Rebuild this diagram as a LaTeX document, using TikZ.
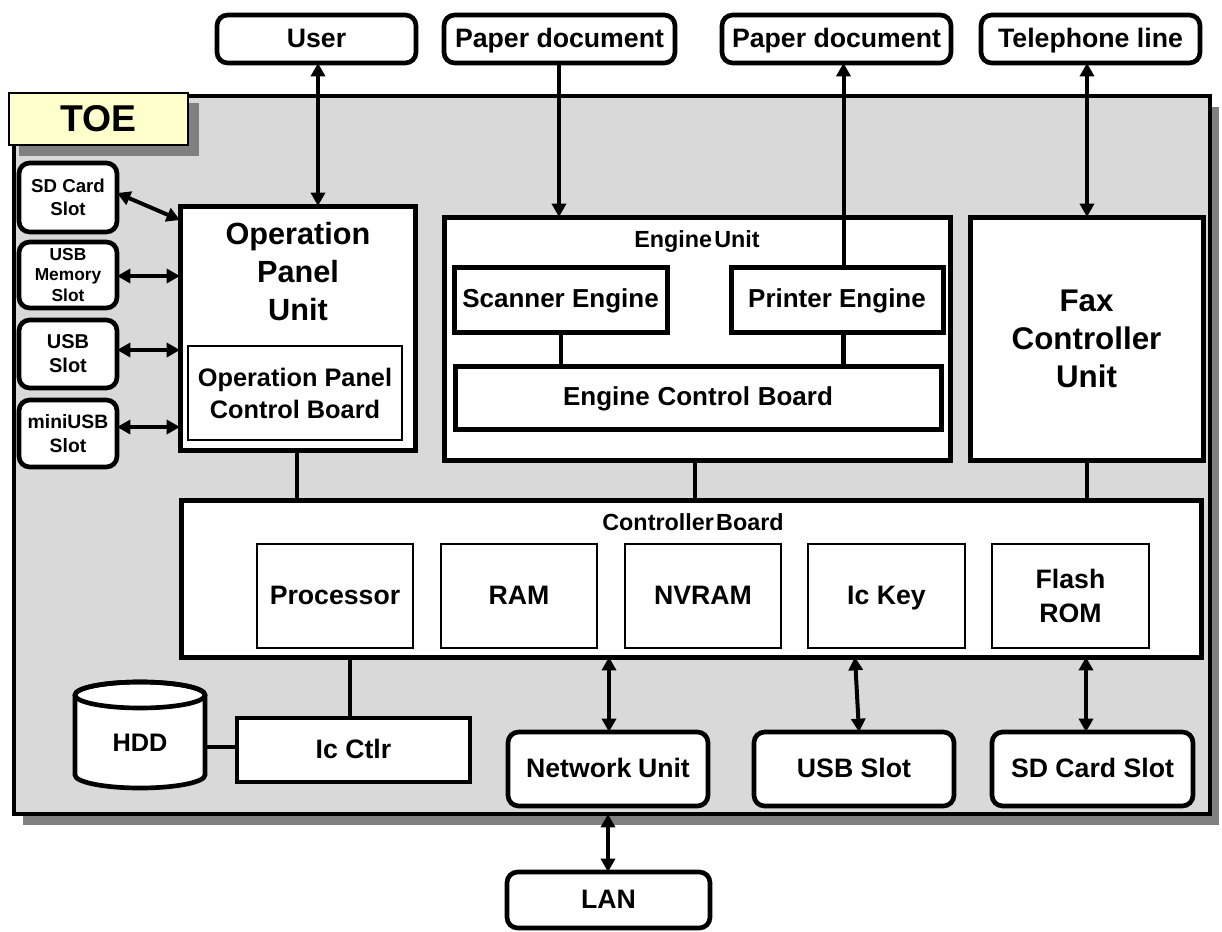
\documentclass[tikz,border=0pt]{standalone}
\usepackage{fontspec}
\setmainfont{Liberation Sans}
\usetikzlibrary{arrows.meta}
\definecolor{toefill}{HTML}{D9D9D9}
\definecolor{shadowgray}{HTML}{808080}
\definecolor{labelfill}{HTML}{FFFFCC}
\newcommand{\fsz}[2]{\fontsize{#1}{#2}\selectfont\bfseries}
\newcommand{\mkbox}[7]{\node[#1, minimum width={(#5-#3)*0.75pt}, minimum height={(#6-#4)*0.75pt}] (#2) at ({(#3+#5)/2},{(#4+#6)/2}) {#7};}
\begin{document}
\begin{tikzpicture}[x=0.75pt,y=-0.75pt,
  base/.style={inner sep=0pt, outer sep=0pt, align=center, draw=black},
  bigbox/.style={base, line width=3.75pt, fill=white},
  rbox/.style={base, line width=3.5pt, fill=white, rounded corners=8pt},
  thinbox/.style={base, line width=1pt, fill=white},
  oneline/.style={text height=15pt, text depth=3pt},
  link/.style={line width=3.5pt},
  dbl/.style={line width=3pt, {Triangle[length=10pt,width=10.5pt]}-{Triangle[length=10pt,width=10.5pt]}},
  sgl/.style={line width=3pt, -{Triangle[length=10pt,width=10.5pt]}},
  txt/.style={inner sep=0pt, align=center}]
\useasboundingbox (0,0) rectangle (1222,932);
% TOE frame
\fill[shadowgray] (23,107) rectangle (1219,825);
\mkbox{base, line width=3pt, fill=toefill}{toe}{14}{96}{1210}{814}{}
\fill[shadowgray] (19,103) rectangle (199,156);
\mkbox{base, line width=1.5pt, fill=labelfill, font=\fsz{28}{32}}{toelbl}{9}{93}{188}{145}{TOE}
% top boxes
\mkbox{rbox, oneline, font=\fsz{20}{24}}{user}{217}{15}{416}{63}{User}
\mkbox{rbox, oneline, font=\fsz{20}{24}}{pdin}{444}{15}{675}{63}{Paper document}
\mkbox{rbox, oneline, font=\fsz{20}{24}}{pdout}{722}{15}{951}{63}{Paper document}
\mkbox{rbox, oneline, font=\fsz{20}{24}}{tel}{981}{15}{1200}{63}{Telephone line}
% left slots
\mkbox{rbox, font=\fsz{14}{17}}{sdl}{19}{163}{117}{232}{SD Card\\Slot}
\mkbox{rbox, font=\fsz{13}{15.5}}{usbm}{19}{242}{117}{308}{USB\\Memory\\Slot}
\mkbox{rbox, font=\fsz{15}{18}}{usbl}{19}{320}{117}{388}{USB\\Slot}
\mkbox{rbox, font=\fsz{14.5}{18}}{mini}{19}{400}{117}{467}{miniUSB\\Slot}
% operation panel
\mkbox{bigbox}{opu}{180}{206}{415}{450}{}
\node[txt, font=\fsz{23}{28.5}] (opulbl) at (298,272) {Operation\\Panel\\Unit};
\mkbox{thinbox, font=\fsz{19}{24}}{opcb}{188}{346}{402}{440}{Operation Panel\\Control Board}
% engine unit
\mkbox{bigbox}{eng}{444}{217}{950}{460}{}
\node[txt, font=\fsz{17.5}{21}] (englbl) at (697,242) {Engine\hspace{0.1em}Unit};
\mkbox{bigbox, oneline, font=\fsz{19.5}{23}}{scan}{454}{267}{667}{332}{Scanner Engine}
\mkbox{bigbox, oneline, font=\fsz{19.5}{23}}{prt}{731}{267}{943}{332}{Printer Engine}
\mkbox{bigbox, oneline, font=\fsz{19.5}{23}}{ecb}{455}{366}{941}{429}{Engine\hspace{0.3em}Control\hspace{0.3em}Board}
% fax
\mkbox{bigbox, font=\fsz{23.5}{28.5}}{fax}{970}{217}{1203}{460}{Fax\\Controller\\Unit}
% controller board
\mkbox{bigbox}{cb}{181}{500}{1201}{657}{}
\node[txt, font=\fsz{17.5}{21}] (cblbl) at (693,522) {Controller\hspace{0.1em}Board};
\mkbox{thinbox, oneline, font=\fsz{20}{25}}{proc}{257}{544}{413}{648}{Processor}
\mkbox{thinbox, oneline, font=\fsz{20}{25}}{ram}{441}{544}{597}{648}{RAM}
\mkbox{thinbox, oneline, font=\fsz{20}{25}}{nvram}{625}{544}{781}{648}{NVRAM}
\mkbox{thinbox, oneline, font=\fsz{20}{25}}{ickey}{808}{544}{965}{648}{Ic Key}
\mkbox{thinbox, font=\fsz{20}{25}}{flash}{992}{544}{1149}{648}{Flash\\ROM}
% bottom
\mkbox{base, oneline, line width=3.5pt, fill=white, font=\fsz{20}{24}}{icc}{237}{718}{470}{782}{Ic Ctlr}
\mkbox{rbox, oneline, font=\fsz{20}{24}}{net}{508}{732}{708}{806}{Network\hspace{0.25em}Unit}
\mkbox{rbox, oneline, font=\fsz{20}{24}}{usb}{754}{732}{954}{806}{USB Slot}
\mkbox{rbox, oneline, font=\fsz{20}{24}}{sdc}{992}{732}{1193}{806}{SD Card Slot}
\mkbox{rbox, oneline, font=\fsz{20}{24}}{lan}{507}{872}{710}{928}{LAN}
% HDD cylinder
\draw[line width=3.5pt, fill=white] (75,695) -- (75,775)
  arc[start angle=180, end angle=360, x radius=48.75pt, y radius=9.75pt]
  -- (205,695)
  arc[start angle=0, end angle=180, x radius=48.75pt, y radius=9.75pt] -- cycle;
\draw[line width=3.5pt] (140,695) ellipse[x radius=48.75pt, y radius=9.75pt];
\node[txt, font=\fsz{19}{23}] (hdd) at (140,743) {HDD};
\coordinate (hddR) at (205,747);
% helper coordinates
\coordinate (xuser) at (318,0);
\coordinate (xpin) at (559,0);
\coordinate (xpout) at (843.5,0);
\coordinate (xtel) at (1087,0);
\coordinate (xscan) at (561,0);
\coordinate (xop) at (297,0);
\coordinate (xeng) at (695,0);
\coordinate (xicc) at (350,0);
\coordinate (xnet) at (609,0);
\coordinate (xusbA) at (855,0);
\coordinate (xusbB) at (859,0);
\coordinate (xsdc) at (1086,0);
\coordinate (xlan) at (608,0);
\coordinate (ysd) at (0,193);
\coordinate (yop) at (0,220);
\coordinate (yum) at (0,276);
\coordinate (yus) at (0,350);
\coordinate (ymi) at (0,427);
% connectors
\draw[dbl] (user.south -| xuser) -- (opu.north -| xuser);
\draw[sgl] (pdin.south -| xpin) -- (eng.north -| xpin);
\draw[sgl] (prt.north -| xpout) -- (pdout.south -| xpout);
\draw[dbl] (tel.south -| xtel) -- (fax.north -| xtel);
\draw[link] (scan.south -| xscan) -- (ecb.north -| xscan);
\draw[link] (prt.south -| xpout) -- (ecb.north -| xpout);
\draw[link] (opu.south -| xop) -- (cb.north -| xop);
\draw[link] (eng.south -| xeng) -- (cb.north -| xeng);
\draw[link] (fax.south -| xtel) -- (cb.north -| xtel);
\draw[link] (cb.south -| xicc) -- (icc.north -| xicc);
\draw[link] (hddR) -- (icc.west |- hddR);
\draw[dbl] (cb.south -| xnet) -- (net.north -| xnet);
\draw[dbl] (cb.south -| xusbA) -- (usb.north -| xusbB);
\draw[dbl] (cb.south -| xsdc) -- (sdc.north -| xsdc);
\draw[dbl] (toe.south -| xlan) -- (lan.north -| xlan);
\draw[dbl] (sdl.east |- ysd) -- (opu.west |- yop);
\draw[dbl] (usbm.east |- yum) -- (opu.west |- yum);
\draw[dbl] (usbl.east |- yus) -- (opu.west |- yus);
\draw[dbl] (mini.east |- ymi) -- (opu.west |- ymi);
\end{tikzpicture}
\end{document}
